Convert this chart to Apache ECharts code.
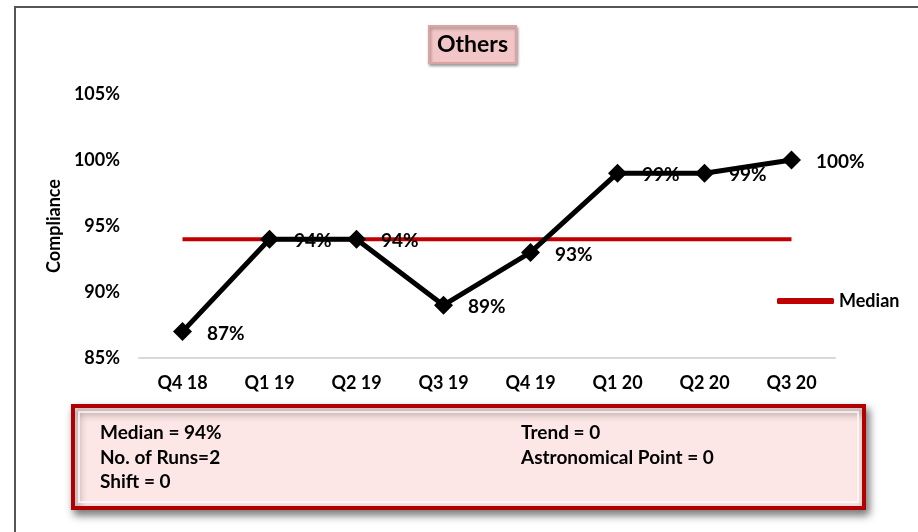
<!DOCTYPE html>
<html>
<head>
<meta charset="utf-8">
<script src="https://cdn.jsdelivr.net/npm/echarts@6/dist/echarts.min.js"></script>
<style>
  html, body { margin: 0; padding: 0; background: #fff; }
  #main { width: 918px; height: 532px; }
</style>
</head>
<body>
<div id="main"></div>
<script>
var quarters = ['Q4 18', 'Q1 19', 'Q2 19', 'Q3 19', 'Q4 19', 'Q1 20', 'Q2 20', 'Q3 20'];
var compliance = [87, 94, 94, 89, 93, 99, 99, 100];
var medianValue = 94;
var statsLeft = ['Median = 94%', 'No. of Runs=2', 'Shift = 0'];
var statsRight = ['Trend = 0', 'Astronomical Point = 0'];

(function() {
    var chartDom = document.getElementById('main');
    var myChart = echarts.init(chartDom);
    var font = 'Lato, "Open Sans", sans-serif';

    var medianLine = quarters.map(function() { return medianValue; });

    // stats box texts
    var statTexts = [];
    statsLeft.forEach(function(t, i) {
        statTexts.push({
            type: 'text', x: 100, y: 433 + i * 24.5,
            style: { text: t, font: 'bold 19px ' + font, fill: '#000', verticalAlign: 'middle' }
        });
    });
    statsRight.forEach(function(t, i) {
        statTexts.push({
            type: 'text', x: 521, y: 433 + i * 24.5,
            style: { text: t, font: 'bold 19px ' + font, fill: '#000', verticalAlign: 'middle' }
        });
    });

    var option = {
        backgroundColor: '#fff',
        animation: false,
        textStyle: { fontFamily: font },
        grid: {
            left: 139,
            right: 83,
            top: 94,
            bottom: 174
        },
        legend: {
            data: [{ name: 'Median', icon: 'roundRect' }],
            left: 772,
            top: 287,
            itemWidth: 57,
            itemHeight: 6,
            itemGap: 4,
            textStyle: { fontWeight: 'bold', fontSize: 18, color: '#000', fontFamily: font }
        },
        xAxis: {
            type: 'category',
            data: quarters,
            axisLine: { lineStyle: { color: '#d9d9d9', width: 2 } },
            axisTick: { show: false },
            axisLabel: { color: '#000', fontWeight: 'bold', fontSize: 18, margin: 16 }
        },
        yAxis: {
            type: 'value',
            min: 85,
            max: 105,
            interval: 5,
            name: 'Compliance',
            nameLocation: 'middle',
            nameGap: 76,
            nameTextStyle: { color: '#000', fontWeight: 'bold', fontSize: 18 },
            axisLine: { show: false },
            axisTick: { show: false },
            splitLine: { show: false },
            axisLabel: {
                color: '#000', fontWeight: 'bold', fontSize: 18, margin: 19,
                formatter: '{value}%'
            }
        },
        series: [{
                name: 'Compliance',
                type: 'line',
                data: compliance,
                symbol: 'diamond',
                symbolSize: 19,
                itemStyle: { color: '#000' },
                lineStyle: { color: '#000', width: 5 },
                label: {
                    show: true,
                    position: 'right',
                    distance: 15,
                    offset: [0, 2],
                    formatter: '{c}%',
                    color: '#000',
                    fontWeight: 'bold',
                    fontSize: 19
                },
                z: 3
            },
            {
                name: 'Median',
                type: 'line',
                data: medianLine,
                symbol: 'none',
                lineStyle: { color: '#c00000', width: 4 },
                itemStyle: { color: '#c00000' },
                z: 2
            }
        ],
        graphic: [
            // outer frame
            {
                type: 'polyline',
                shape: { points: [[15, 540], [15, 7], [930, 7]] },
                style: { stroke: '#555', lineWidth: 2, fill: null }
            },
            // title box
            {
                type: 'rect',
                shape: { x: 429, y: 26, width: 87, height: 37 },
                style: {
                    fill: '#f2c6c6', stroke: '#d8a4a4', lineWidth: 2,
                    shadowBlur: 3, shadowOffsetX: 1, shadowOffsetY: 2, shadowColor: 'rgba(0,0,0,0.35)'
                }
            },
            {
                type: 'text', x: 472.5, y: 45,
                style: {
                    text: 'Others', font: 'bold 23px ' + font, fill: '#000',
                    align: 'center', verticalAlign: 'middle'
                }
            },
            // stats box
            {
                type: 'rect',
                shape: { x: 73, y: 406, width: 791, height: 102 },
                style: {
                    fill: '#fde6e6', stroke: '#b00000', lineWidth: 4,
                    shadowBlur: 8, shadowOffsetX: 3, shadowOffsetY: 5, shadowColor: 'rgba(0,0,0,0.5)'
                }
            },
            {
                type: 'rect',
                shape: { x: 79, y: 412, width: 779, height: 90 },
                style: { fill: null, stroke: 'rgba(255,255,255,0.7)', lineWidth: 2 }
            }
        ].concat(statTexts)
    };

    myChart.setOption(option);
})();
</script>
</body>
</html>
